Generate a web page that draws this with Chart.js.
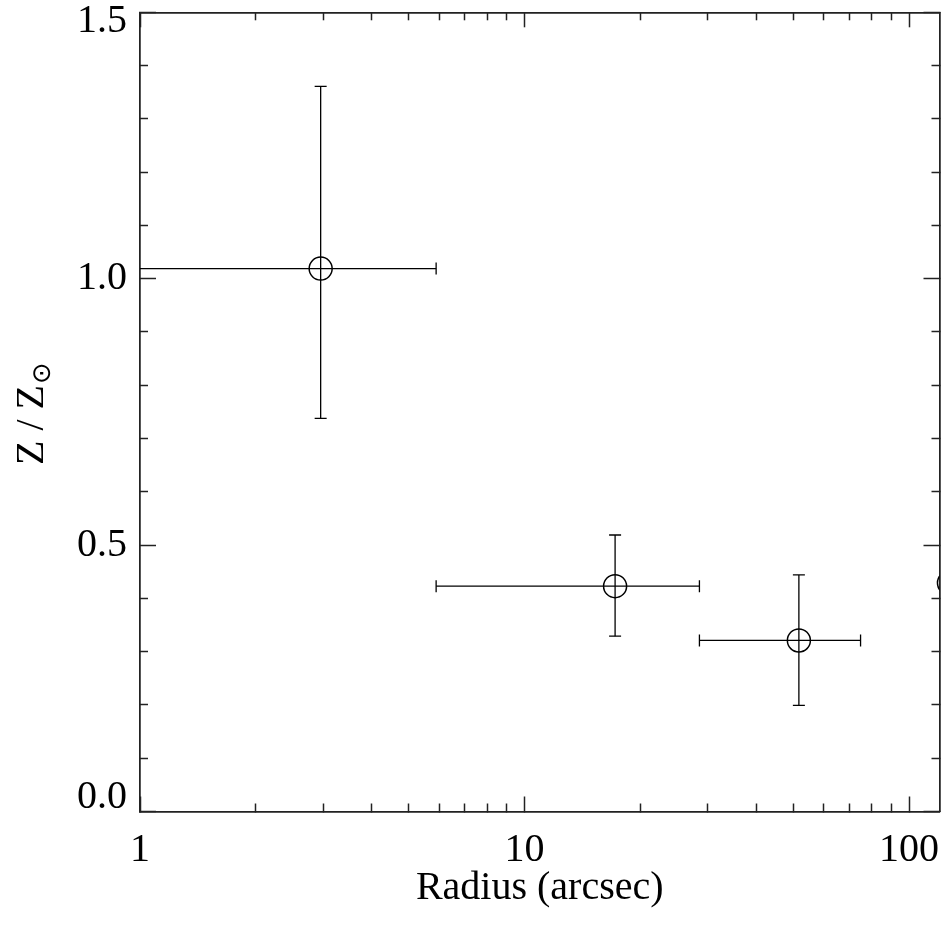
<!DOCTYPE html>
<html>
<head>
<meta charset="utf-8">
<script src="https://cdn.jsdelivr.net/npm/chart.js@4"></script>
<style>
  html, body { margin: 0; padding: 0; background: #fff; }
  canvas { display: block; }
</style>
</head>
<body>
<canvas id="c" width="948" height="926"></canvas>
<script>
// ---- data ----
const radius   = [2.95, 17.2, 51.7, 127];
const radiusLo = [0.5, 5.89, 28.5, null];
const radiusHi = [5.89, 28.5, 74.8, null];
const metal    = [1.019, 0.423, 0.321, 0.429];
const metalLo  = [0.738, 0.329, 0.199, null];
const metalHi  = [1.361, 0.519, 0.444, null];

const xMajorTicks = [1, 10, 100];
const xTickLabels = ['1', '10', '100'];
const xMinorTicks = [2, 3, 4, 5, 6, 7, 8, 9, 20, 30, 40, 50, 60, 70, 80, 90];
const yMajorTicks = [0, 0.5, 1.0, 1.5];
const yTickLabels = ['0.0', '0.5', '1.0', '1.5'];
const yMinorTicks = [0.1, 0.2, 0.3, 0.4, 0.6, 0.7, 0.8, 0.9, 1.1, 1.2, 1.3, 1.4];

const xTitle = 'Radius (arcsec)';
const yTitleMain = 'Z / Z';
const yTitleSub = '\u2299';

// ---- styling ----
const INK = '#000';
const AXIS = '#222';
const SERIF = "'Liberation Serif', 'Times New Roman', serif";
const X_MIN = 1, X_MAX = 120, Y_MIN = 0, Y_MAX = 1.5;

// ---- datasets ----
const datasets = [];
radius.forEach((r, i) => {
  if (radiusLo[i] != null) {
    datasets.push({
      data: [{x: radiusLo[i], y: metal[i]}, {x: radiusHi[i], y: metal[i]}],
      showLine: true, borderColor: INK, borderWidth: 1.3,
      pointStyle: 'line', pointRotation: 90, pointRadius: 6,
      pointBorderColor: INK, pointBorderWidth: 1.3, pointBackgroundColor: INK
    });
  }
  if (metalLo[i] != null) {
    datasets.push({
      data: [{x: r, y: metalLo[i]}, {x: r, y: metalHi[i]}],
      showLine: true, borderColor: INK, borderWidth: 1.3,
      pointStyle: 'line', pointRotation: 0, pointRadius: 6,
      pointBorderColor: INK, pointBorderWidth: 1.3, pointBackgroundColor: INK
    });
  }
});
datasets.push({
  data: radius.map((r, i) => ({x: r, y: metal[i]})),
  showLine: false, pointStyle: 'circle', pointRadius: 11.5,
  pointBorderColor: INK, pointBorderWidth: 1.5, pointBackgroundColor: 'rgba(0,0,0,0)'
});

function zeroPad(scale) {
  scale.paddingTop = 0; scale.paddingBottom = 0;
  scale.paddingLeft = 0; scale.paddingRight = 0;
}
function tickAxis(type, position, ticks, len, weight, min, max) {
  return {
    type, position, min, max, weight,
    afterBuildTicks: (s) => { s.ticks = ticks.map(v => ({value: v})); },
    afterFit: (s) => { if (s.isHorizontal()) s.height = 0; else s.width = 0; zeroPad(s); },
    ticks: { display: false, autoSkip: false },
    border: { display: true, color: AXIS, width: 1.5 },
    grid: { drawOnChartArea: false, drawTicks: true, tickLength: -len, tickColor: AXIS, tickWidth: 1.5 }
  };
}

const yTitlePlugin = {
  id: 'yTitle',
  afterDraw(chart) {
    const ctx = chart.ctx;
    ctx.save();
    ctx.translate(43, 465);
    ctx.rotate(-Math.PI / 2);
    ctx.fillStyle = INK;
    ctx.font = '40px ' + SERIF;
    ctx.textBaseline = 'alphabetic';
    ctx.textAlign = 'left';
    ctx.fillText(yTitleMain, 0, 0);
    const w = ctx.measureText(yTitleMain).width;
    ctx.font = "26px 'DejaVu Sans', sans-serif";
    ctx.textBaseline = 'middle';
    ctx.fillText(yTitleSub, w + 1, 0);
    ctx.restore();
  }
};

new Chart(document.getElementById('c'), {
  type: 'scatter',
  data: { datasets },
  plugins: [yTitlePlugin],
  options: {
    responsive: false,
    animation: false,
    devicePixelRatio: 1,
    events: [],
    layout: { autoPadding: false, padding: { top: 12.3, right: 8.5, left: 0, bottom: 0 } },
    plugins: { legend: { display: false }, tooltip: { enabled: false } },
    scales: {
      x: {
        type: 'logarithmic', position: 'bottom', min: X_MIN, max: X_MAX, weight: 1,
        afterBuildTicks: (s) => { s.ticks = xMajorTicks.map(v => ({value: v})); },
        afterFit: (s) => { s.height = 114.5; zeroPad(s); },
        ticks: {
          autoSkip: false, maxRotation: 0, padding: 30, color: INK,
          font: { family: SERIF, size: 40 },
          callback: (v, i) => xTickLabels[i]
        },
        border: { display: true, color: AXIS, width: 1.5 },
        grid: { drawOnChartArea: false, drawTicks: true, tickLength: -15, tickColor: AXIS, tickWidth: 1.5 },
        title: { display: true, text: xTitle, color: INK, font: { family: SERIF, size: 40 }, padding: { top: 0, bottom: 14 } }
      },
      xMinB: tickAxis('logarithmic', 'bottom', xMinorTicks, 8, 0, X_MIN, X_MAX),
      xTop: tickAxis('logarithmic', 'top', xMajorTicks, 15, 0, X_MIN, X_MAX),
      xMinT: tickAxis('logarithmic', 'top', xMinorTicks, 8, 0, X_MIN, X_MAX),
      y: {
        type: 'linear', position: 'left', min: Y_MIN, max: Y_MAX, weight: 1,
        afterBuildTicks: (s) => { s.ticks = yMajorTicks.map(v => ({value: v})); },
        afterFit: (s) => { s.width = 140; zeroPad(s); },
        ticks: {
          autoSkip: false, padding: 29, color: INK,
          font: (c) => {
            const v = c.tick ? c.tick.value : null;
            let lh = 1.2;
            if (v === 1.5) lh = '18px';
            else if (v === 0) lh = '28px';
            return { family: SERIF, size: 40, lineHeight: lh };
          },
          callback: (v, i) => {
            const t = yTickLabels[i];
            if (v === 1.5) return ['', t];
            if (v === 0) return [t, ''];
            return t;
          }
        },
        border: { display: true, color: AXIS, width: 1.5 },
        grid: { drawOnChartArea: false, drawTicks: true, tickLength: -16, tickColor: AXIS, tickWidth: 1.5 }
      },
      yMinL: tickAxis('linear', 'left', yMinorTicks, 8, 0, Y_MIN, Y_MAX),
      yRight: tickAxis('linear', 'right', yMajorTicks, 16, 0, Y_MIN, Y_MAX),
      yMinR: tickAxis('linear', 'right', yMinorTicks, 8, 0, Y_MIN, Y_MAX)
    }
  }
});
</script>
</body>
</html>
